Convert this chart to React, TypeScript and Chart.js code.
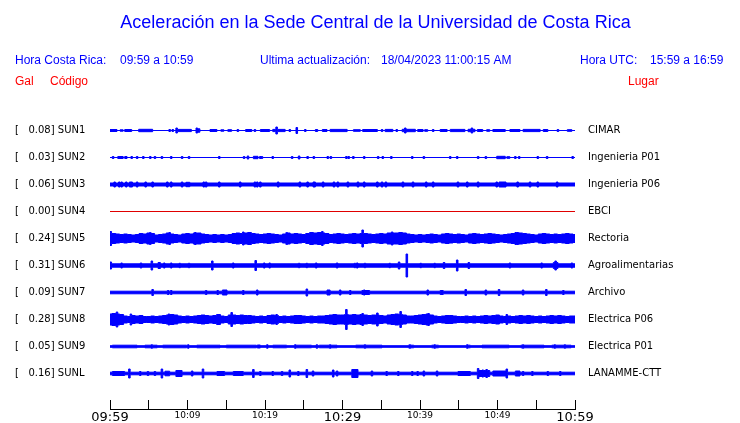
import React, { useEffect, useRef } from 'react';
import { Chart, registerables } from 'chart.js';

Chart.register(...registerables);

// ---------- texts ----------
const TITLE = 'Aceleración en la Sede Central de la Universidad de Costa Rica';
const HORA_CR_LABEL = 'Hora Costa Rica:';
const HORA_CR_VALUE = '09:59 a 10:59';
const UPDATE_LABEL = 'Ultima actualización:';
const UPDATE_VALUE = '18/04/2023 11:00:15 AM';
const UTC_LABEL = 'Hora UTC:';
const UTC_VALUE = '15:59 a 16:59';
const GAL_HEADER = 'Gal';
const CODE_HEADER = 'Código';
const PLACE_HEADER = 'Lugar';

// ---------- stations ----------
const CODES = ['SUN1', 'SUN2', 'SUN3', 'SUN4', 'SUN5', 'SUN6', 'SUN7', 'SUN8', 'SUN9', 'SUNL'];
const PEAK_GAL = ['0.08', '0.03', '0.06', '0.00', '0.24', '0.31', '0.09', '0.28', '0.05', '0.16'];
const LUGARES = ['CIMAR', 'Ingenieria P01', 'Ingenieria P06', 'EBCI', 'Rectoria', 'Agroalimentarias', 'Archivo', 'Electrica P06', 'Electrica P01', 'LANAMME-CTT'];
const TRACE_COLORS = ['#0000ff', '#0000ff', '#0000ff', '#e00000', '#0000ff', '#0000ff', '#0000ff', '#0000ff', '#0000ff', '#0000ff'];

// ---------- time axis (minutes after 09:59) ----------
const TIME_START = 0;
const TIME_END = 60;
const TICK_STEP_MIN = 5;
const TICK_LABELS = ['09:59', '', '10:09', '', '10:19', '', '10:29', '', '10:39', '', '10:49', '', '10:59'];
const MAJOR_LABELS = ['09:59', '10:29', '10:59'];

// ---------- traces: visible half-height (px) of the waveform envelope ----------
// bursts: [start min, end min, half-height]; spikes: [min, half-height]; envelopes: one value per 0.5 min
type Burst = [number, number, number];
type Spike = [number, number];

const SUN1_BASE = 0.5;
const SUN1_BURSTS: Burst[] = [[0, 0.9, 1.5], [1.3, 1.7, 1.2], [1.9, 2.8, 1.5], [3.7, 5.5, 1.7], [8.5, 10.5, 1.6], [11.1, 11.6, 2.2], [12.9, 13.8, 1.5], [14.3, 14.7, 1.2], [15.2, 15.7, 1.3], [17.5, 18.3, 1.5], [19.4, 20.6, 1.5], [21, 22.6, 1.6], [26.5, 26.8, 1.5], [27.4, 28, 1.5], [28.4, 30.6, 1.6], [31.4, 32.3, 1.3], [32.6, 34.5, 1.5], [35.5, 36.5, 1.6], [37.7, 39.4, 1.7], [39.7, 40.4, 1.5], [40.6, 41, 1.3], [42.6, 43.5, 1.5], [43.9, 45.8, 1.6], [46.2, 47.1, 1.7], [47.4, 48.1, 1.5], [48.6, 49, 1.3], [49.4, 51, 1.5], [51.6, 52.9, 1.5], [53.3, 55.5, 1.6], [55.9, 56.5, 1.5], [59, 59.6, 1.3]];
const SUN1_SPIKES: Spike[] = [[7.7, 1.5], [8.1, 1.5], [8.6, 3], [11.2, 3], [16.5, 1.5], [18.7, 1.5], [21.5, 4], [23.2, 1.5], [24.1, 3.5], [25.2, 1.5], [35.1, 1.5], [37, 1.5], [38.1, 3], [41.7, 1.5], [46.7, 3], [57.8, 1.5]];

const SUN2_BASE = 0.5;
const SUN2_BURSTS: Burst[] = [[1.0, 1.7, 1.5], [1.9, 2.2, 1.5], [9.2, 9.4, 1.5], [18.5, 19.1, 1.7], [34.5, 34.7, 1.5], [49.9, 51, 1.7], [51.2, 51.6, 1.3]];
const SUN2_SPIKES: Spike[] = [[0.4, 1.5], [2.8, 1.5], [3.5, 1.5], [4.3, 1.5], [5.2, 1.5], [5.8, 1.5], [6.7, 1.5], [7.9, 1.5], [10.2, 1.5], [14.1, 1.5], [17.3, 1.5], [17.8, 2], [19.4, 1.5], [19.6, 1.5], [21, 1.5], [23.5, 1.5], [24.4, 2], [25.5, 1.5], [26.3, 1.5], [28.1, 1.5], [28.5, 1.5], [30.5, 1.5], [30.8, 1.5], [31.4, 1.5], [32.8, 1.5], [35.2, 1.5], [36.3, 1.5], [39, 1.5], [40.5, 1.5], [43.9, 1.5], [44.8, 1.5], [47.5, 1.5], [48.5, 1.5], [52.3, 1.5], [52.8, 1.5], [55.2, 1.5], [56.4, 1.5], [59.7, 1.5]];

const SUN3_BASE = 2;
const SUN3_BURSTS: Burst[] = [[9.2, 9.4, 3], [9.8, 10.3, 2.7], [26.2, 26.5, 3], [50.2, 51.1, 3]];
const SUN3_SPIKES: Spike[] = [[0.6, 3], [1.2, 3], [1.5, 3], [2.1, 3], [2.6, 3], [2.8, 3], [3.5, 3], [4.6, 3], [5.5, 3], [7.4, 3], [7.9, 3], [12.1, 3], [12.4, 3], [14.1, 3], [16.8, 3], [18.7, 3], [19, 3], [19.4, 3], [21.7, 3], [24.5, 3], [25.5, 3], [27.5, 3], [28.9, 3], [29.4, 3], [30.7, 3], [32, 3], [32.8, 3], [34.5, 3], [35.1, 3], [35.6, 3], [37.8, 3], [39.1, 3], [40.8, 3], [41.7, 3], [44.9, 3], [46.1, 3], [47.5, 3], [49.9, 3], [52.6, 3], [54.2, 3], [55.2, 3], [57.7, 3]];

const SUN4_BASE = 0.5;
const SUN4_BURSTS: Burst[] = [];
const SUN4_SPIKES: Spike[] = [];

const SUN5_BASE = 4;
const SUN5_ENVELOPE = [5.5, 5.5, 5, 4.5, 5, 4.5, 4, 4.5, 5.5, 5, 6, 5.5, 4, 4.5, 5, 6, 5, 4.5, 4, 5, 5.5, 5, 6, 6, 5, 4.5, 4, 4.5, 4, 4.5, 4, 4.5, 5.5, 6, 5.5, 6, 6.5, 5.5, 5, 4.5, 5, 5.5, 5, 4.5, 4, 5, 6, 5, 5.5, 5, 4.5, 5.5, 6.5, 6, 6.5, 6, 5.5, 4.5, 5, 5.5, 5, 4.5, 5, 5.5, 5, 5.5, 5.5, 5, 4.5, 5, 5.5, 5, 6, 6, 6, 6.5, 6, 5, 4.5, 4, 4.5, 4, 4.5, 5, 4.5, 4, 5, 5.5, 5, 4.5, 5, 4.5, 4, 5, 5.5, 5, 4.5, 5, 5.5, 5, 4.5, 4, 4.5, 5, 5.5, 6.5, 6, 5.5, 5, 4.5, 4, 5, 5.5, 5, 4.5, 5, 4.5, 5, 5.5, 5, 4.5];
const SUN5_SPIKES: Spike[] = [[0.1, 7.5], [5.2, 6.5], [7.7, 6.5], [11, 6.5], [17.2, 7], [22.8, 6.5], [27.4, 7.5], [32.6, 9], [36.4, 7], [52.6, 6.5]];

const SUN6_BASE = 2.2;
const SUN6_BURSTS: Burst[] = [[3.9, 4.1, 3], [6.2, 6.5, 3.5], [57.2, 57.8, 3.5]];
const SUN6_SPIKES: Spike[] = [[0.1, 4], [1.5, 3], [5.4, 5], [7, 3], [7.9, 3], [9, 2.7], [10.2, 2.7], [13.2, 5], [15.9, 3], [18.8, 5.5], [19.9, 3], [20.6, 3], [24.4, 2.7], [25.4, 2.7], [26.6, 3], [29.3, 3], [31.6, 2.7], [31.9, 3], [32.9, 2.7], [36.1, 2.7], [37.3, 4], [38.3, 12], [40.1, 2.7], [41.9, 2.7], [43.1, 3.5], [44.8, 6], [46.3, 3.5], [51.6, 3], [55.7, 3], [57.5, 5], [59.6, 3]];

const SUN7_BASE = 1.8;
const SUN7_BURSTS: Burst[] = [[14.5, 15.1, 3], [28, 28.4, 3], [32.5, 33.5, 2.5], [42.6, 43, 2.5]];
const SUN7_SPIKES: Spike[] = [[5.5, 3.5], [7.5, 2.5], [7.9, 2.5], [12.4, 2.5], [13.9, 2.5], [17.2, 2.5], [19, 3], [25.4, 4], [29.7, 3], [31, 2.5], [32.8, 3], [41, 3], [45.9, 3.5], [48.5, 3], [50.2, 3.5], [53.3, 3], [56.3, 3.5], [58.5, 2.5]];

const SUN8_BASE = 3.5;
const SUN8_ENVELOPE = [6, 6.5, 6, 5.5, 4, 3.5, 4.5, 4, 4.5, 3.5, 3.5, 4, 3.5, 4, 4.5, 5, 5.5, 5, 4, 3.5, 4, 3.5, 4, 4.5, 5, 4.5, 4, 4.5, 5.5, 4, 3.5, 5, 5, 4.5, 5, 4.5, 4.5, 4, 3.5, 4, 3.5, 4.5, 5, 4.5, 3.5, 4, 3.5, 4, 4.5, 4.5, 4, 3.5, 4, 3.5, 4, 4, 4.5, 5, 5.5, 5, 5, 5.5, 5, 5.5, 5, 5.5, 5, 4.5, 5, 5, 4.5, 4, 5, 5.5, 6, 5.5, 5, 4, 4, 4.5, 5, 5.5, 6, 5, 4, 3.5, 4, 4.5, 4.5, 4, 3.5, 3.5, 4, 3.5, 4, 3.5, 4, 4.5, 4, 4.5, 5, 4, 3.5, 4, 3.5, 4, 4.5, 4, 4.5, 4, 3.5, 4, 3.5, 4, 4.5, 4, 4.5, 4, 3.5, 4, 4];
const SUN8_SPIKES: Spike[] = [[0.9, 8], [2.7, 6], [7.6, 6], [15.7, 7.5], [21.5, 5.5], [30.5, 10.5], [32.6, 6.5], [34.5, 7], [37.5, 8.5], [41.1, 6.5], [51.2, 5.5]];

const SUN9_BASE = 1.3;
const SUN9_BURSTS: Burst[] = [[0.3, 3.5, 1.8], [4.5, 6.1, 1.8], [6.8, 9.9, 1.8], [11.2, 14.2, 1.8], [15, 18.9, 1.8], [19, 19.4, 2], [21, 22.8, 1.8], [24, 26, 1.8], [27, 29.3, 1.8], [31.7, 35.1, 1.8], [38.5, 39.2, 1.8], [41.5, 42.4, 1.8], [46, 46.5, 1.8], [48, 51.5, 1.8], [53, 56, 1.8], [57, 59.5, 1.8]];
const SUN9_SPIKES: Spike[] = [[5.4, 2.2], [10.1, 2.2], [20.3, 2.2], [23.9, 2.2], [26.7, 2.2], [28.4, 2.2], [32.9, 2.2], [38.7, 2.2], [41.9, 2.2], [46.1, 2.2], [53.3, 2.2], [57.4, 2.2], [58.7, 2.2]];

const SUNL_BASE = 1.8;
const SUNL_BURSTS: Burst[] = [[0.3, 1.9, 2.5], [7.1, 7.7, 2.8], [8.5, 9.3, 3.5], [13.8, 14.8, 2.5], [15.9, 17.2, 2.5], [31.2, 32, 4.5], [44.9, 46.5, 2.5], [47.4, 49, 3.5], [49.4, 51.2, 3], [52.3, 52.9, 3]];
const SUNL_SPIKES: Spike[] = [[2.5, 5], [3.9, 2.5], [4.9, 2.5], [5.8, 2.5], [6.7, 5], [10.6, 3], [12, 5], [18.5, 4.5], [19.4, 2.5], [21, 2.5], [22.2, 2.5], [23.2, 4], [24.3, 2.5], [25.4, 4.5], [26.2, 3], [28.8, 4], [29.3, 3], [33.8, 3], [35.7, 2.5], [37.2, 2.5], [39, 2.5], [39.7, 2.5], [40.5, 3], [42.2, 3], [47.5, 5.5], [48.1, 4], [48.6, 4.5], [51.2, 5], [53.3, 2.5], [54.5, 2.5], [56.5, 2.5], [58.1, 2.5]];

const ENV_STEP_MIN = 0.5;
const SPIKE_WIDTH_MIN = 0.2;

const TRACES: { base: number; bursts: Burst[]; spikes: Spike[]; env: number[] | null }[] = [
  { base: SUN1_BASE, bursts: SUN1_BURSTS, spikes: SUN1_SPIKES, env: null },
  { base: SUN2_BASE, bursts: SUN2_BURSTS, spikes: SUN2_SPIKES, env: null },
  { base: SUN3_BASE, bursts: SUN3_BURSTS, spikes: SUN3_SPIKES, env: null },
  { base: SUN4_BASE, bursts: SUN4_BURSTS, spikes: SUN4_SPIKES, env: null },
  { base: SUN5_BASE, bursts: [], spikes: SUN5_SPIKES, env: SUN5_ENVELOPE },
  { base: SUN6_BASE, bursts: SUN6_BURSTS, spikes: SUN6_SPIKES, env: null },
  { base: SUN7_BASE, bursts: SUN7_BURSTS, spikes: SUN7_SPIKES, env: null },
  { base: SUN8_BASE, bursts: [], spikes: SUN8_SPIKES, env: SUN8_ENVELOPE },
  { base: SUN9_BASE, bursts: SUN9_BURSTS, spikes: SUN9_SPIKES, env: null },
  { base: SUNL_BASE, bursts: SUNL_BURSTS, spikes: SUNL_SPIKES, env: null },
];

// ---------- layout ----------
const W = 740;
const H = 423;
const ROW_PX = 27;
const PLOT_TOP = 103;
const PLOT_BOTTOM = 409;
const PLOT_LEFT = 110;
const PLOT_RIGHT = 575;
const Y_MIN = -0.5 / ROW_PX;
const Y_MAX = Y_MIN + (PLOT_BOTTOM - PLOT_TOP) / ROW_PX;
const BLUE = '#0000ff';
const RED = '#ff0000';

const clampT = (t: number) => Math.min(TIME_END, Math.max(TIME_START, t));

function buildProfile(base: number, bursts: Burst[], spikes: Spike[], env: number[] | null) {
  const iv: Burst[] = [...bursts];
  spikes.forEach(([t, a]) => iv.push([t - SPIKE_WIDTH_MIN / 2, t + SPIKE_WIDTH_MIN / 2, a]));
  if (env) env.forEach((a, i) => iv.push([i * ENV_STEP_MIN - ENV_STEP_MIN / 2, i * ENV_STEP_MIN + ENV_STEP_MIN / 2, a]));
  const cuts = new Set<number>([TIME_START, TIME_END]);
  iv.forEach(([a, b]) => { cuts.add(clampT(a)); cuts.add(clampT(b)); });
  const xs = Array.from(cuts).sort((p, q) => p - q);
  const pts: { x: number; a: number }[] = [];
  for (let i = 0; i < xs.length - 1; i++) {
    const m = (xs[i] + xs[i + 1]) / 2;
    let v = base;
    let hit = false;
    for (const [a, b, amp] of iv) {
      if (m >= a && m <= b) {
        if (!hit) { v = env ? amp : Math.max(amp, base); hit = true; }
        else if (amp > v) v = amp;
      }
    }
    pts.push({ x: xs[i], a: v }, { x: xs[i + 1], a: v });
  }
  return pts;
}

const headerPlugin = {
  id: 'headerTexts',
  afterDraw(chart: any) {
    const ctx = chart.ctx as CanvasRenderingContext2D;
    ctx.save();
    ctx.textBaseline = 'alphabetic';
    ctx.fillStyle = BLUE;
    ctx.textAlign = 'center';
    ctx.font = '18px "Liberation Sans", Arial, sans-serif';
    ctx.fillText(TITLE, 375.5, 28);
    ctx.textAlign = 'left';
    ctx.font = '12px "Liberation Sans", Arial, sans-serif';
    ctx.fillText(HORA_CR_LABEL, 15, 64);
    ctx.fillText(HORA_CR_VALUE, 120, 64);
    ctx.fillText(UPDATE_LABEL, 260, 64);
    ctx.fillText(UPDATE_VALUE, 381, 64);
    ctx.fillText(UTC_LABEL, 580, 64);
    ctx.fillText(UTC_VALUE, 650, 64);
    ctx.fillStyle = RED;
    ctx.fillText(GAL_HEADER, 15, 85);
    ctx.fillText(CODE_HEADER, 50, 85);
    ctx.fillText(PLACE_HEADER, 628, 85);
    ctx.restore();
  },
};

const zeroPadding = (s: any) => {
  s.paddingTop = 0;
  s.paddingBottom = 0;
  s.paddingLeft = 0;
  s.paddingRight = 0;
};

export default function App() {
  const ref = useRef<HTMLCanvasElement | null>(null);

  useEffect(() => {
    if (!ref.current) return;
    const datasets: any[] = [];
    TRACES.forEach((tr, k) => {
      const row = k + 1;
      const color = TRACE_COLORS[k];
      const pts = buildProfile(tr.base, tr.bursts, tr.spikes, tr.env);
      const half = (a: number) => Math.max(0, a - 0.5) / ROW_PX;
      const common = {
        borderColor: color,
        backgroundColor: color,
        borderWidth: 1,
        pointRadius: 0,
        tension: 0,
        stepped: true,
        borderJoinStyle: 'miter',
        yAxisID: 'y',
        xAxisID: 'x',
      };
      datasets.push({ ...common, label: CODES[k] + ' +', data: pts.map((p) => ({ x: p.x, y: row - half(p.a) })), fill: false });
      datasets.push({ ...common, label: CODES[k] + ' -', data: pts.map((p) => ({ x: p.x, y: row + half(p.a) })), fill: '-1' });
    });

    const yTicks = (scale: any) => { scale.ticks = CODES.map((_, i) => ({ value: i + 1 })); };

    const chart = new Chart(ref.current, {
      type: 'line',
      data: { datasets },
      plugins: [headerPlugin],
      options: {
        animation: false,
        responsive: false,
        devicePixelRatio: 1,
        events: [],
        layout: { padding: { top: PLOT_TOP, left: 15, right: 0, bottom: 0 } },
        plugins: { legend: { display: false }, tooltip: { enabled: false }, title: { display: false } },
        scales: {
          x: {
            type: 'linear',
            position: 'bottom',
            min: TIME_START,
            max: TIME_END,
            ticks: {
              stepSize: TICK_STEP_MIN,
              autoSkip: false,
              maxRotation: 0,
              padding: 10,
              color: '#000',
              callback: (_v: any, i: number) => TICK_LABELS[i] ?? '',
              font: (ctx: any) => {
                const v = ctx.tick ? ctx.tick.value : 0;
                const lbl = TICK_LABELS[Math.round(v / TICK_STEP_MIN)];
                return MAJOR_LABELS.includes(lbl) ? { family: 'DejaVu Sans', size: 13 } : { family: 'DejaVu Sans', size: 9 };
              },
            },
            grid: { drawOnChartArea: false, drawTicks: true, tickLength: -9, color: '#000', lineWidth: 1 },
            border: { display: true, color: '#000', width: 1 },
            afterFit: (s: any) => { s.height = H - PLOT_BOTTOM; zeroPadding(s); },
          } as any,
          y: {
            type: 'linear',
            position: 'left',
            reverse: true,
            min: Y_MIN,
            max: Y_MAX,
            afterBuildTicks: yTicks,
            ticks: {
              autoSkip: false,
              crossAlign: 'far',
              color: '#000',
              font: { family: 'DejaVu Sans', size: 10 },
              callback: (v: any) => `[   ${PEAK_GAL[v - 1]}] ${CODES[v - 1]}`,
            },
            grid: { display: false, drawTicks: false },
            border: { display: false },
            afterFit: (s: any) => { s.width = PLOT_LEFT - 15; zeroPadding(s); },
          } as any,
          y2: {
            type: 'linear',
            position: 'right',
            reverse: true,
            min: Y_MIN,
            max: Y_MAX,
            afterBuildTicks: yTicks,
            ticks: {
              autoSkip: false,
              crossAlign: 'near',
              padding: 13,
              color: '#000',
              font: { family: 'DejaVu Sans', size: 10 },
              callback: (v: any) => LUGARES[v - 1],
            },
            grid: { display: false, drawTicks: false },
            border: { display: false },
            afterFit: (s: any) => { s.width = W - PLOT_RIGHT; zeroPadding(s); },
          } as any,
        },
      } as any,
    });
    return () => chart.destroy();
  }, []);

  return (
    <div style={{ position: 'absolute', left: 0, top: 0, width: W, height: H, background: '#fff' }}>
      <canvas ref={ref} width={W} height={H} style={{ width: W, height: H, display: 'block' }} />
    </div>
  );
}
